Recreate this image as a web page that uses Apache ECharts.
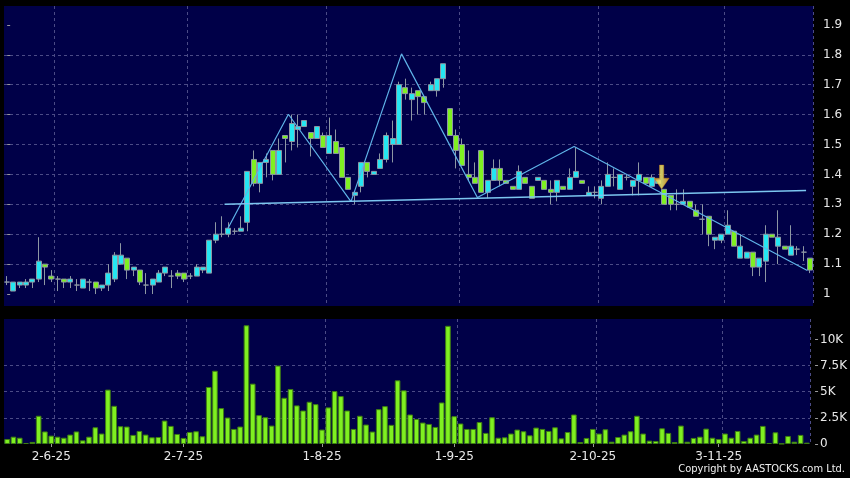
<!DOCTYPE html>
<html>
<head>
<meta charset="utf-8">
<script src="https://cdn.jsdelivr.net/npm/echarts@6/dist/echarts.min.js"></script>
<style>
html,body{margin:0;padding:0;background:#000;}
#chart{width:850px;height:478px;}
</style>
</head>
<body>
<div id="chart"></div>
<script>
// 交易日 (2025) 按月列出
const tradeDays = [
  ['5', [22,23,26,27,28,29,30]],
  ['6', [2,3,4,5,6,9,10,11,12,13,16,17,18,19,20,23,24,25,26,27,30]],
  ['7', [2,3,4,7,8,9,10,11,14,15,16,17,18,21,22,23,24,25,28,29,30,31]],
  ['8', [1,4,5,6,7,8,11,12,13,14,15,18,19,20,21,22,25,26,27,28,29]],
  ['9', [1,2,3,4,5,8,9,10,11,12,15,16,17,18,19,22,23,24,25,26,29,30]],
  ['10', [2,3,6,8,9,10,13,14,15,16,17,20,21,22,23,24,27,28,30,31]],
  ['11', [3,4,5,6,7,10,11,12,13,14,17,18,19,20,21]]
];
const dateLabels = ['2-6-25','2-7-25','1-8-25','1-9-25','2-10-25','3-11-25'];
const priceTicks = [1,1.1,1.2,1.3,1.4,1.5,1.6,1.7,1.8,1.9];
const volTicks = [0,2500,5000,7500,10000];

const opens = [
  1.04,1.01,1.03,1.03,1.04,1.05,1.10,1.06,1.05,1.05,
  1.04,1.03,1.02,1.04,1.04,1.02,1.03,1.05,1.10,1.12,
  1.08,1.08,1.03,1.03,1.04,1.07,1.06,1.07,1.07,1.06,
  1.06,1.08,1.07,1.18,1.20,1.20,1.21,1.21,1.24,1.45,
  1.37,1.44,1.48,1.40,1.53,1.51,1.55,1.56,1.54,1.52,
  1.53,1.47,1.51,1.49,1.39,1.33,1.36,1.44,1.40,1.42,
  1.45,1.50,1.50,1.69,1.65,1.68,1.66,1.68,1.68,1.72,
  1.62,1.53,1.50,1.40,1.39,1.48,1.34,1.38,1.42,1.38,
  1.36,1.35,1.39,1.36,1.38,1.38,1.35,1.34,1.36,1.35,
  1.39,1.38,1.33,1.34,1.32,1.36,1.39,1.35,1.39,1.36,
  1.38,1.39,1.36,1.37,1.35,1.33,1.30,1.30,1.31,1.28,
  1.25,1.26,1.18,1.18,1.20,1.21,1.12,1.12,1.14,1.09,
  1.11,1.20,1.16,1.16,1.13,1.15,1.14,1.12
];
const closes = [
  1.04,1.04,1.04,1.04,1.05,1.11,1.09,1.05,1.05,1.04,
  1.05,1.03,1.05,1.04,1.02,1.03,1.07,1.13,1.13,1.08,
  1.09,1.04,1.03,1.05,1.07,1.09,1.06,1.06,1.05,1.06,
  1.09,1.09,1.18,1.20,1.20,1.22,1.21,1.22,1.41,1.37,
  1.44,1.45,1.40,1.48,1.52,1.57,1.56,1.58,1.52,1.56,
  1.49,1.53,1.47,1.39,1.35,1.34,1.44,1.41,1.41,1.45,
  1.53,1.52,1.70,1.67,1.67,1.66,1.64,1.70,1.72,1.77,
  1.53,1.48,1.43,1.39,1.37,1.34,1.38,1.42,1.38,1.37,
  1.35,1.41,1.37,1.32,1.39,1.35,1.34,1.38,1.35,1.39,
  1.41,1.37,1.34,1.34,1.36,1.40,1.39,1.40,1.39,1.38,
  1.40,1.37,1.39,1.38,1.30,1.30,1.30,1.31,1.29,1.26,
  1.25,1.20,1.19,1.20,1.23,1.16,1.16,1.14,1.09,1.12,
  1.20,1.19,1.19,1.15,1.16,1.15,1.14,1.08
];
const lows = [
  1.03,1.01,1.02,1.02,1.02,1.04,1.03,1.04,1.01,1.02,
  1.02,1.01,1.02,1.01,1.00,1.01,1.01,1.04,1.10,1.05,
  1.06,1.03,1.00,1.00,1.04,1.06,1.02,1.05,1.04,1.05,
  1.06,1.07,1.07,1.17,1.19,1.19,1.20,1.21,1.21,1.36,
  1.34,1.39,1.38,1.40,1.44,1.48,1.49,1.56,1.46,1.52,
  1.49,1.47,1.47,1.39,1.35,1.30,1.34,1.39,1.40,1.42,
  1.44,1.44,1.50,1.65,1.58,1.60,1.60,1.68,1.66,1.69,
  1.53,1.42,1.43,1.38,1.37,1.34,1.32,1.38,1.36,1.37,
  1.35,1.35,1.37,1.32,1.38,1.35,1.30,1.31,1.35,1.35,
  1.39,1.37,1.33,1.32,1.30,1.36,1.36,1.35,1.38,1.33,
  1.33,1.37,1.36,1.37,1.30,1.28,1.28,1.30,1.29,1.26,
  1.20,1.16,1.15,1.17,1.20,1.16,1.12,1.12,1.06,1.06,
  1.04,1.19,1.10,1.15,1.13,1.13,1.11,1.07
];
const highs = [
  1.06,1.04,1.04,1.05,1.05,1.19,1.10,1.08,1.06,1.05,
  1.06,1.05,1.05,1.05,1.04,1.03,1.10,1.14,1.17,1.12,
  1.09,1.08,1.07,1.05,1.08,1.09,1.08,1.08,1.07,1.07,
  1.10,1.09,1.18,1.24,1.26,1.24,1.22,1.26,1.41,1.48,
  1.44,1.47,1.48,1.52,1.53,1.60,1.60,1.58,1.54,1.56,
  1.54,1.59,1.55,1.49,1.39,1.34,1.44,1.44,1.41,1.47,
  1.54,1.58,1.71,1.72,1.69,1.68,1.66,1.71,1.72,1.77,
  1.62,1.55,1.52,1.48,1.44,1.48,1.38,1.45,1.45,1.38,
  1.36,1.43,1.39,1.36,1.39,1.38,1.38,1.38,1.36,1.42,
  1.49,1.38,1.36,1.36,1.38,1.44,1.42,1.40,1.40,1.38,
  1.44,1.39,1.40,1.38,1.35,1.33,1.35,1.35,1.31,1.30,
  1.30,1.26,1.19,1.20,1.28,1.21,1.20,1.14,1.14,1.12,
  1.23,1.20,1.28,1.16,1.23,1.16,1.16,1.12
];
const volumes = [
  480,700,600,100,200,2700,1200,800,700,600,
  900,1200,350,700,1600,1000,5200,3650,1700,1670,
  870,1250,900,640,670,2240,1730,960,580,1150,
  1220,740,5450,7000,3430,2530,1440,1670,11350,5770,
  2760,2560,1760,7500,4420,5260,3690,3200,4040,3810,
  1380,3500,5060,4580,3200,1440,2700,1860,1190,3330,
  3620,1830,6090,5130,2820,2400,2050,1920,1630,3970,
  11300,2660,1960,1440,1440,2100,1060,2560,600,640,
  1000,1380,1220,830,1570,1440,1250,1600,540,1150,
  2820,190,580,1440,1000,1410,220,670,900,1220,
  2700,1000,320,290,1500,1060,190,1760,220,580,
  700,1470,600,480,1000,600,1250,290,600,900,
  1730,100,1120,30,770,220,870,130
];
// 形态线 (x 为交易日序号, y 为价格)
const zigzagPoints = [[34.9,1.218],[44.5,1.601],[54.4,1.309],[62.4,1.803],[74.4,1.323],[89.7,1.493],[126.6,1.079]];
const necklinePoints = [[34.4,1.300],[126.4,1.346]];
const arrowPoint = [[103.55,1.391]];

const dates = tradeDays.flatMap(([m, ds]) => ds.map(d => d + '-' + m + '-25'));
const ohlc = opens.map((o, i) => [o, closes[i], lows[i], highs[i]]);
const labelIdx = dateLabels.map(l => dates.indexOf(l));
const splitIdx = labelIdx.map(i => i + 1);

const bg = '#000048';
const gridLine = {show: true, lineStyle: {color: '#4b4b86', type: [3, 3], width: 1}};
const font = 'DejaVu Sans';

const chart = echarts.init(document.getElementById('chart'));
const option = {
  backgroundColor: '#000',
  animation: false,
  grid: [
    {left: 4, right: 37, top: 6, height: 300, show: true, backgroundColor: bg, borderWidth: 0},
    {left: 4, right: 37, top: 319, height: 125, show: true, backgroundColor: bg, borderWidth: 0}
  ],
  xAxis: [
    {type: 'category', gridIndex: 0, data: dates, boundaryGap: true,
     axisLine: {show: false}, axisTick: {show: false}, axisLabel: {show: false},
     splitLine: Object.assign({interval: (i) => splitIdx.includes(i)}, gridLine)},
    {type: 'category', gridIndex: 1, data: dates, boundaryGap: true,
     axisLine: {show: false},
     axisTick: {show: true, alignWithLabel: true, length: 3, interval: (i) => labelIdx.includes(i), lineStyle: {color: '#9a9a9a'}},
     axisLabel: {show: true, interval: (i) => labelIdx.includes(i), color: '#e8e8e8', fontFamily: font, fontSize: 12, margin: 7},
     splitLine: Object.assign({interval: (i) => splitIdx.includes(i)}, gridLine)},
    {type: 'value', gridIndex: 0, min: -0.5, max: 127.5, show: false}
  ],
  yAxis: [
    {type: 'value', gridIndex: 0, position: 'right', offset: 5, min: 0.96, max: 1.963, splitNumber: 10,
     axisLine: {show: false},
     axisTick: {show: true, length: 3, customValues: priceTicks, lineStyle: {color: '#9a9a9a'}},
     axisLabel: {customValues: priceTicks, color: '#e8e8e8', fontFamily: font, fontSize: 12, margin: 5,
                 formatter: v => String(+v.toFixed(2))},
     splitLine: Object.assign({showMinLine: false, showMaxLine: false}, gridLine)},
    {type: 'value', gridIndex: 1, position: 'right', offset: 5, min: 0, max: 11950, interval: 2500,
     axisLine: {show: false},
     axisTick: {show: true, length: 3, customValues: volTicks, lineStyle: {color: '#9a9a9a'}},
     axisLabel: {customValues: volTicks, color: '#e8e8e8', fontFamily: font, fontSize: 12, margin: 5,
                 formatter: v => v === 0 ? '0' : (v / 1000) + 'K'},
     splitLine: Object.assign({showMinLine: false, showMaxLine: false}, gridLine)}
  ],
  series: [
    {type: 'candlestick', xAxisIndex: 0, yAxisIndex: 0, data: ohlc, barWidth: 5.5,
     itemStyle: {color: '#25e6f2', color0: '#7ff021', borderColor: '#8d97a3', borderColor0: '#8d97a3', borderWidth: 1}},
    {type: 'bar', xAxisIndex: 1, yAxisIndex: 1, data: volumes, barWidth: 5.6,
     itemStyle: {color: '#7ff021', borderColor: '#3f7f12', borderWidth: 1}},
    {type: 'line', xAxisIndex: 2, yAxisIndex: 0, data: zigzagPoints, symbol: 'none', z: 5,
     lineStyle: {color: '#5fb3e8', width: 1.2}},
    {type: 'line', xAxisIndex: 2, yAxisIndex: 0, data: necklinePoints, symbol: 'none', z: 5,
     lineStyle: {color: '#7cc6f0', width: 1.5}},
    {type: 'scatter', xAxisIndex: 2, yAxisIndex: 0, data: arrowPoint, z: 6,
     symbol: 'path://M5,0 L9,0 L9,12 L14,12 L7,22 L0,12 L5,12 Z', symbolSize: [15, 24],
     itemStyle: {
       color: new echarts.graphic.LinearGradient(0, 0, 1, 0, [
         {offset: 0, color: '#f4a824'}, {offset: 0.5, color: '#fff76a'}, {offset: 1, color: '#f4a824'}
       ]),
       borderColor: '#d08a18', borderWidth: 0.5
     }}
  ],
  graphic: [
    {type: 'text', right: 5, top: 464,
     style: {text: 'Copyright by AASTOCKS.com Ltd.', fill: '#f0f0f0', font: '11px "DejaVu Sans Condensed", "DejaVu Sans"'}}
  ]
};
chart.setOption(option);
</script>
</body>
</html>
